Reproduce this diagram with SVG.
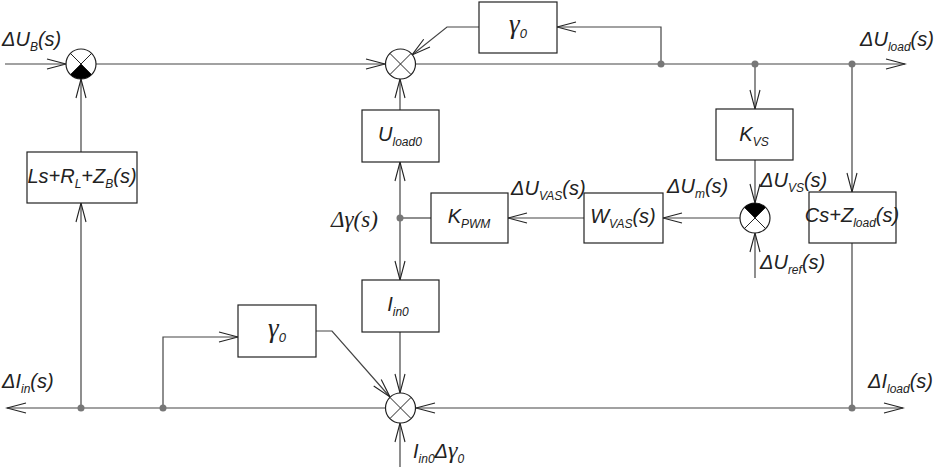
<svg xmlns="http://www.w3.org/2000/svg" width="941" height="467" viewBox="0 0 941 467">
<style>
.bx{fill:#fff;stroke:#222;stroke-width:1.2}
.ln{fill:none;stroke:#444;stroke-width:1.2}
.sj{fill:#fff;stroke:#222;stroke-width:1.2}
.x{stroke:#222;stroke-width:1}
.dot{fill:#777}
.t{font-family:"Liberation Sans",Arial,sans-serif;font-style:italic;font-size:20px;fill:#222}
.s{font-size:12px}
.g{font-family:"Liberation Serif","Times New Roman",serif;font-style:italic;font-size:23px;fill:#222}
.gb{font-family:"Liberation Serif","Times New Roman",serif;font-style:italic;font-size:27px;fill:#222}
.gs{font-family:"Liberation Sans",Arial,sans-serif;font-size:13px}
</style>
<defs>
<marker id="a" viewBox="-20 -7 22 14" refX="0" refY="0" markerWidth="22" markerHeight="14" markerUnits="userSpaceOnUse" orient="auto">
<path d="M-19,-5 L0,0 L-19,5" fill="none" stroke="#222" stroke-width="1.1"/>
</marker>
</defs>
<g id="connectors">
<path class="ln" d="M5,64 L66,64" marker-end="url(#a)"/>
<path class="ln" d="M96,64 L385,64" marker-end="url(#a)"/>
<path class="ln" d="M416,64 L905,64" marker-end="url(#a)"/>
<path class="ln" d="M661,64 L661,27 L557,27" marker-end="url(#a)"/>
<path class="ln" d="M479,27 L447,27 L412,55" marker-end="url(#a)"/>
<path class="ln" d="M755,64 L755,109" marker-end="url(#a)"/>
<path class="ln" d="M852,64 L852,192" marker-end="url(#a)"/>
<path class="ln" d="M852,243 L852,408"/>
<path class="ln" d="M755,160 L755,203" marker-end="url(#a)"/>
<path class="ln" d="M755,278 L755,233" marker-end="url(#a)"/>
<path class="ln" d="M740,218 L663,218" marker-end="url(#a)"/>
<path class="ln" d="M584,218 L508,218" marker-end="url(#a)"/>
<path class="ln" d="M431,218 L400,218"/>
<path class="ln" d="M400,218 L400,162" marker-end="url(#a)"/>
<path class="ln" d="M400,110 L400,79" marker-end="url(#a)"/>
<path class="ln" d="M400,218 L400,280" marker-end="url(#a)"/>
<path class="ln" d="M400,332 L400,393" marker-end="url(#a)"/>
<path class="ln" d="M852,408 L416,408" marker-end="url(#a)"/>
<path class="ln" d="M852,408 L903,408" marker-end="url(#a)"/>
<path class="ln" d="M385,408 L7,408" marker-end="url(#a)"/>
<path class="ln" d="M400,467 L400,423" marker-end="url(#a)"/>
<path class="ln" d="M163,408 L163,337 L238,337" marker-end="url(#a)"/>
<path class="ln" d="M316,331 L332,331 L390,397" marker-end="url(#a)"/>
<path class="ln" d="M81,408 L81,203" marker-end="url(#a)"/>
<path class="ln" d="M81,152 L81,79" marker-end="url(#a)"/>
<circle class="dot" cx="661" cy="64" r="3.5"/>
<circle class="dot" cx="755" cy="64" r="3.5"/>
<circle class="dot" cx="852" cy="64" r="3.5"/>
<circle class="dot" cx="400" cy="218" r="3.5"/>
<circle class="dot" cx="81" cy="408" r="3.5"/>
<circle class="dot" cx="163" cy="408" r="3.5"/>
<circle class="dot" cx="852" cy="408" r="3.5"/>
</g>
<g id="sum1">
<circle class="sj" cx="81" cy="64" r="15"/>
<path d="M81,64 L91.6,74.6 A15,15 0 0 1 70.4,74.6 Z" fill="#000"/>
<path class="x" d="M70.4,53.4 L91.6,74.6 M91.6,53.4 L70.4,74.6"/>
</g>
<g id="sum2">
<circle class="sj" cx="400.5" cy="64" r="15"/>
<path class="x" d="M389.9,53.4 L411.1,74.6 M411.1,53.4 L389.9,74.6"/>
</g>
<g id="sum3">
<circle class="sj" cx="755" cy="218" r="15"/>
<path d="M755,218 L744.4,207.4 A15,15 0 0 1 765.6,207.4 Z" fill="#000"/>
<path class="x" d="M744.4,207.4 L765.6,228.6 M765.6,207.4 L744.4,228.6"/>
</g>
<g id="sum4">
<circle class="sj" cx="400.5" cy="408" r="15"/>
<path class="x" d="M389.9,397.4 L411.1,418.6 M411.1,397.4 L389.9,418.6"/>
</g>
<g id="gamma-top">
<rect class="bx" x="479" y="2" width="78" height="51"/>
<text class="gb" x="518" y="33" text-anchor="middle">γ<tspan class="gs" font-style="italic" dy="5">0</tspan></text>
</g>
<g id="kvs">
<rect class="bx" x="716" y="109" width="77" height="51"/>
<text class="t" x="754" y="141" text-anchor="middle">K<tspan class="s" dy="5">VS</tspan></text>
</g>
<g id="uload0">
<rect class="bx" x="362" y="110" width="77" height="52"/>
<text class="t" x="400" y="141" text-anchor="middle">U<tspan class="s" dy="5">load0</tspan></text>
</g>
<g id="kpwm">
<rect class="bx" x="431" y="193" width="77" height="50"/>
<text class="t" x="469" y="223" text-anchor="middle">K<tspan class="s" dy="5">PWM</tspan></text>
</g>
<g id="wvas">
<rect class="bx" x="584" y="193" width="79" height="50"/>
<text class="t" x="623" y="223" text-anchor="middle">W<tspan class="s" dy="5">VAS</tspan><tspan dy="-5">(s)</tspan></text>
</g>
<g id="czload">
<rect class="bx" x="809" y="192" width="87" height="51"/>
<text class="t" x="852" y="222" text-anchor="middle" font-size="17">Cs+Z<tspan class="s" font-size="11" dy="5">load</tspan><tspan dy="-5">(s)</tspan></text>
</g>
<g id="lsrl">
<rect class="bx" x="27" y="152" width="110" height="51"/>
<text class="t" x="82" y="183" text-anchor="middle" font-size="19">Ls+R<tspan class="s" dy="5">L</tspan><tspan dy="-5">+Z</tspan><tspan class="s" dy="5">B</tspan><tspan dy="-5">(s)</tspan></text>
</g>
<g id="iin0">
<rect class="bx" x="362" y="280" width="77" height="52"/>
<text class="t" x="398" y="311" text-anchor="middle">I<tspan class="s" dy="5">in0</tspan></text>
</g>
<g id="gamma-bottom">
<rect class="bx" x="238" y="305" width="78" height="52"/>
<text class="gb" x="277" y="337" text-anchor="middle">γ<tspan class="gs" font-style="italic" dy="5">0</tspan></text>
</g>
<g id="labels">
<text class="t" x="2" y="46">ΔU<tspan class="s" dy="5">B</tspan><tspan dy="-5">(s)</tspan></text>
<text class="t" x="860" y="46">ΔU<tspan class="s" dy="5">load</tspan><tspan dy="-5">(s)</tspan></text>
<text class="t" x="511" y="195">ΔU<tspan class="s" dy="5">VAS</tspan><tspan dy="-5">(s)</tspan></text>
<text class="t" x="667" y="193">ΔU<tspan class="s" dy="5">m</tspan><tspan dy="-5">(s)</tspan></text>
<text class="t" x="760" y="187">ΔU<tspan class="s" dy="5">VS</tspan><tspan dy="-5">(s)</tspan></text>
<text class="t" x="760" y="269">ΔU<tspan class="s" dy="5">ref</tspan><tspan dy="-5">(s)</tspan></text>
<text class="g" x="331" y="227">Δγ(s)</text>
<text class="t" x="2" y="388">ΔI<tspan class="s" dy="5">in</tspan><tspan dy="-5">(s)</tspan></text>
<text class="t" x="868" y="388">ΔI<tspan class="s" dy="5">load</tspan><tspan dy="-5">(s)</tspan></text>
<text class="t" x="413" y="458">I<tspan class="s" dy="5">in0</tspan><tspan dy="-5">Δ</tspan><tspan font-family="Liberation Serif, serif" font-size="24">γ</tspan><tspan class="s" dy="5">0</tspan></text>
</g>
</svg>
